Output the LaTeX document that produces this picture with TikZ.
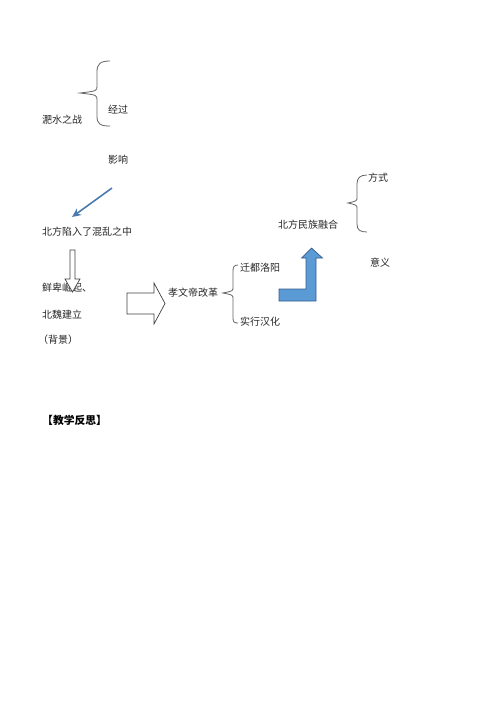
\documentclass[tikz,border=0pt]{standalone}
\usepackage{fontspec}
\setmainfont{Noto Sans CJK SC}
\usetikzlibrary{arrows.meta}
\definecolor{bracegray}{RGB}{100,100,100}
\definecolor{arrowblue}{RGB}{74,122,176}
\definecolor{fillblue}{RGB}{91,155,213}
\definecolor{edgeblue}{RGB}{50,90,140}
\tikzset{
  lbl/.style={anchor=west, inner sep=0pt, font=\fontsize{10}{12}\selectfont, text=black!85},
  bracepath/.style={draw=bracegray, line width=0.8pt},
  hollowarrow/.style={draw=black!75, fill=white, line width=0.7pt, line join=miter},
  bluearrow/.style={draw=edgeblue, fill=fillblue, line width=0.7pt},
  diagarrow/.style={draw=arrowblue, line width=1.6pt, -{Stealth[length=9pt,width=8pt]}}
}
\begin{document}
\begin{tikzpicture}[x=1pt,y=-1pt]
\useasboundingbox (0,0) rectangle (500,707);
% texts
\node[lbl] (feishui) at (42,120) {淝水之战};
\node[lbl] (jingguo) at (108,110) {经过};
\node[lbl] (yingxiang) at (108,160) {影响};
\node[lbl] (luan) at (42,232) {北方陷入了混乱之中};
\node[lbl] (xianbei) at (42,288) {鲜卑崛起、};
\node[lbl] (beiwei) at (42,315) {北魏建立};
\node[lbl] (beijing) at (38,340) {（背景）};
\node[lbl] (xiaowen) at (168,293) {孝文帝改革};
\node[lbl] (qiandu) at (240,268) {迁都洛阳};
\node[lbl] (hanhua) at (240,322) {实行汉化};
\node[lbl] (ronghe) at (278,225) {北方民族融合};
\node[lbl] (fangshi) at (368,178) {方式};
\node[lbl] (yiyi) at (370,263) {意义};
\node[lbl, font=\fontsize{10.8}{12}\selectfont\bfseries, text=black] (fansi) at (42,420) {【教学反思】};
% brace 1
\draw[bracepath] (110,61) .. controls (100,61) and (97,64) .. (97,72) -- (97,86)
  .. controls (97,91) .. (80,93) .. controls (97,95) .. (97,100) -- (97,116)
  .. controls (97,124) and (100,126) .. (110,126);
% brace 2
\draw[bracepath] (238,265) .. controls (234,265) and (233,267) .. (233,271) -- (233,287)
  .. controls (233,291) .. (223,293) .. controls (233,295) .. (233,299) -- (233,318)
  .. controls (233,322) and (234,323) .. (238,323);
% brace 3
\draw[bracepath] (367,175) .. controls (360,175) and (357,178) .. (357,184) -- (357,197)
  .. controls (357,201) .. (348,203) .. controls (357,205) .. (357,209) -- (357,224)
  .. controls (357,230) and (360,232) .. (367,232);
% diagonal arrow
\coordinate (dstart) at (112,188);
\coordinate (dend) at (72,217);
\draw[diagarrow] (dstart) -- (dend);
% hollow down arrow
\draw[hollowarrow] (70,250) -- (75,250) -- (75,279) -- (80,279) -- (72.5,292) -- (65,279) -- (70,279) -- cycle;
% hollow right arrow
\draw[hollowarrow] (127,293) -- (154,293) -- (154,283) -- (165,303.5) -- (154,324) -- (154,314) -- (127,314) -- cycle;
% blue bent arrow
\draw[bluearrow] (279,289) -- (306,289) -- (306,258) -- (301.5,258) -- (311.5,248) -- (322.5,258) -- (316,258) -- (316,301) -- (279,301) -- cycle;
\end{tikzpicture}
\end{document}
